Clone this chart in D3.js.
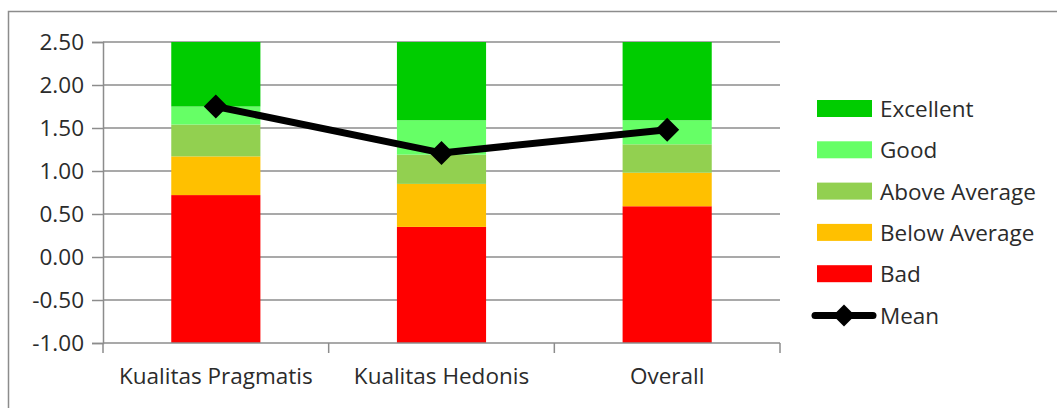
<!DOCTYPE html>
<html>
<head>
<meta charset="utf-8">
<script src="https://cdn.jsdelivr.net/npm/d3@7"></script>
<style>
  html, body { margin: 0; padding: 0; background: #fff; }
  svg { display: block; }
  text { font-family: "Open Sans", Lato, sans-serif; fill: #2b2b2b; }
</style>
</head>
<body>
<svg id="chart" width="1057" height="408"></svg>
<script>
// categories and benchmark bands (upper bound of each band, bars start at axis min)
var categories = ['Kualitas Pragmatis', 'Kualitas Hedonis', 'Overall'];
var bad          = [0.72, 0.35, 0.59];
var belowAverage = [1.17, 0.85, 0.98];
var aboveAverage = [1.54, 1.19, 1.31];
var good         = [1.75, 1.59, 1.59];
var excellent    = [2.50, 2.50, 2.50];
var mean         = [1.75, 1.21, 1.48];
var yTicks = [-1, -0.5, 0, 0.5, 1, 1.5, 2, 2.5];

var bands = [
  { name: 'Bad', values: bad, color: '#ff0000' },
  { name: 'Below Average', values: belowAverage, color: '#ffc000' },
  { name: 'Above Average', values: aboveAverage, color: '#92d050' },
  { name: 'Good', values: good, color: '#66ff66' },
  { name: 'Excellent', values: excellent, color: '#00cc00' }
];

var svg = d3.select('#chart'),
    fontSize = 22.5,
    gridColor = '#8c8c8c',
    fmt = function(d) { return d3.format('.2f')(d).replace('\u2212', '-'); };

// outer chart frame
svg.append('rect')
  .attr('x', 8.5).attr('y', 11.5)
  .attr('width', 1060).attr('height', 410)
  .attr('fill', 'none').attr('stroke', gridColor).attr('stroke-width', 1.5);

var plotL = 103, plotR = 780, plotT = 42, plotB = 343;

var x = d3.scaleBand()
  .domain(categories)
  .range([plotL, plotR])
  .paddingInner(0.605)
  .paddingOuter(0.3025);

var y = d3.scaleLinear().domain([-1, 2.5]).range([plotB, plotT]);

// gridlines
svg.append('g').selectAll('line')
  .data(yTicks.filter(function(d) { return d !== -1; }))
  .enter().append('line')
  .attr('x1', plotL).attr('x2', plotR)
  .attr('y1', function(d) { return y(d); })
  .attr('y2', function(d) { return y(d); })
  .attr('stroke', gridColor).attr('stroke-width', 1.5);

// stacked bars
bands.forEach(function(b, i) {
  svg.append('g').selectAll('rect')
    .data(categories)
    .enter().append('rect')
    .attr('x', function(d) { return x(d); })
    .attr('width', x.bandwidth())
    .attr('y', function(d, j) { return y(b.values[j]); })
    .attr('height', function(d, j) {
      var lo = i === 0 ? -1 : bands[i - 1].values[j];
      return y(lo) - y(b.values[j]);
    })
    .attr('fill', b.color);
});

// y axis
var yAxis = svg.append('g')
  .attr('transform', 'translate(' + plotL + ',0)')
  .call(d3.axisLeft(y).tickValues(yTicks).tickFormat(fmt).tickSize(11).tickPadding(8));
yAxis.select('.domain').attr('stroke', gridColor).attr('stroke-width', 1.5);
yAxis.selectAll('.tick line').attr('stroke', gridColor).attr('stroke-width', 1.5);
yAxis.selectAll('.tick text')
  .attr('font-size', fontSize)
  .attr('font-family', '"Open Sans", Lato, sans-serif')
  .attr('fill', '#2b2b2b');

// x axis (category boundaries as ticks)
var step = x.step();
var xg = svg.append('g');
xg.append('line')
  .attr('x1', plotL).attr('x2', plotR)
  .attr('y1', plotB).attr('y2', plotB)
  .attr('stroke', gridColor).attr('stroke-width', 1.5);
xg.selectAll('.xt')
  .data(d3.range(categories.length + 1))
  .enter().append('line')
  .attr('x1', function(d) { return plotL + d * step; })
  .attr('x2', function(d) { return plotL + d * step; })
  .attr('y1', plotB).attr('y2', plotB + 10)
  .attr('stroke', gridColor).attr('stroke-width', 1.5);
xg.selectAll('text')
  .data(categories)
  .enter().append('text')
  .attr('x', function(d) { return x(d) + x.bandwidth() / 2; })
  .attr('y', 384)
  .attr('text-anchor', 'middle')
  .attr('font-size', fontSize)
  .text(function(d) { return d; });

// mean line
var line = d3.line()
  .x(function(d, i) { return x(categories[i]) + x.bandwidth() / 2; })
  .y(function(d) { return y(d); });

svg.append('path')
  .datum(mean)
  .attr('d', line)
  .attr('fill', 'none')
  .attr('stroke', '#000')
  .attr('stroke-width', 7)
  .attr('stroke-linejoin', 'round');

var diamond = 'M0,-12L12,0L0,12L-12,0Z';
svg.append('g').selectAll('path')
  .data(mean)
  .enter().append('path')
  .attr('d', diamond)
  .attr('transform', function(d, i) {
    return 'translate(' + (x(categories[i]) + x.bandwidth() / 2) + ',' + y(d) + ')';
  })
  .attr('fill', '#000');

// legend
var legendItems = bands.slice().reverse().concat([{ name: 'Mean', line: true }]);
var lg = svg.append('g').selectAll('g')
  .data(legendItems)
  .enter().append('g')
  .attr('transform', function(d, i) { return 'translate(817,' + (109 + i * 41.3) + ')'; });

lg.filter(function(d) { return !d.line; }).append('rect')
  .attr('x', 0).attr('y', -9)
  .attr('width', 55).attr('height', 17)
  .attr('fill', function(d) { return d.color; });

var ml = lg.filter(function(d) { return d.line; });
ml.append('line')
  .attr('x1', -2).attr('x2', 56).attr('y1', 0).attr('y2', 0)
  .attr('stroke', '#000').attr('stroke-width', 7).attr('stroke-linecap', 'round');
ml.append('path')
  .attr('d', 'M0,-11L11,0L0,11L-11,0Z')
  .attr('transform', 'translate(27,0)')
  .attr('fill', '#000');

lg.append('text')
  .attr('x', 63).attr('y', 8)
  .attr('font-size', fontSize)
  .text(function(d) { return d.name; });
</script>
</body>
</html>
